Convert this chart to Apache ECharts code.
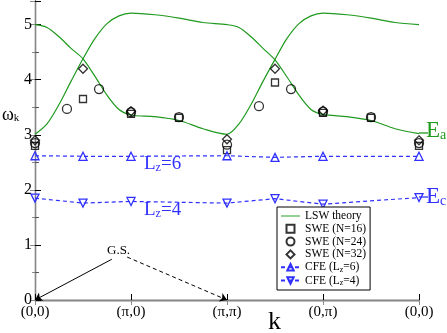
<!DOCTYPE html>
<html><head><meta charset="utf-8">
<script src="https://cdn.jsdelivr.net/npm/echarts@6/dist/echarts.min.js"></script>
<style>html,body{margin:0;padding:0;background:#fff}#c{width:447px;height:333px}</style>
</head><body><div id="c"></div>
<script>
const tickLabels = ['(0,0)', '(π,0)', '(π,π)', '(0,π)', '(0,0)'];
const lswX = [0,0.125,0.25,0.375,0.5,0.625,0.75,0.875,1,1.25,1.5,1.75,2,2.125,2.25,2.375,2.5,2.625,2.75,2.875,3,3.25,3.5,3.75,4];
const lswBand1 = [5.0,4.95,4.78,4.57,4.38,4.06,3.72,3.46,3.36,3.33,3.26,3.11,3.01,3.2,3.55,3.97,4.37,4.75,5.02,5.16,5.21,5.18,5.12,5.04,5.0];
const lswBand2 = [3.01,3.2,3.55,3.97,4.38,4.75,5.02,5.16,5.21,5.18,5.12,5.04,5.0,4.95,4.78,4.57,4.36,4.05,3.72,3.46,3.37,3.33,3.26,3.11,3.02];
const swe16X = [0,0.5,1,1.5,2,2.5,3,3.5,4];
const swe16 = [2.8,3.65,3.38,3.31,2.72,3.95,3.4,3.31,2.8];
const swe24X = [0,0.333,0.667,1,1.5,2,2.333,2.667,3,3.5,4];
const swe24 = [2.85,3.47,3.83,3.41,3.32,2.82,3.52,3.83,3.42,3.32,2.85];
const swe32X = [0,0.5,1,2,2.5,3,4];
const swe32 = [2.9,4.2,3.43,2.92,4.2,3.44,2.9];
const cfeX = [0,0.5,1,2,2.5,3,4];
const cfeLz6 = [2.62,2.61,2.61,2.62,2.59,2.61,2.61];
const cfeLz4 = [1.85,1.76,1.79,1.76,1.84,1.74,1.86];
const gsFrom = [0.8, 0.74];
const gsTo = [0, 0];
const gsFrom2 = [0.96, 0.78];
const gsTo2 = [2, 0];

const zip = (xs, ys) => xs.map((x, i) => [x, ys[i]]);
const serif = 'Liberation Serif';
const green = '#1f9a1f';
const blue = '#3030ff';
const hollow = c => ({color: 'rgba(0,0,0,0)', borderColor: c, borderWidth: 1.3});
const sub = {fontFamily: serif, fontSize: 9, padding: [7, 0, 0, 0]};
const squarePath = 'path://M0,0L10,0L10,10L0,10Z';
const diamondPath = 'path://M5,0L10,5L5,10L0,5Z';
const chart = echarts.init(document.getElementById('c'), null, {renderer: 'canvas'});
chart.setOption({
  animation: false,
  grid: {left: 35, right: 28, top: 1, bottom: 33},
  xAxis: [{
    type: 'value', min: 0, max: 4, interval: 1,
    axisLine: {lineStyle: {color: '#000', width: 1.3}},
    axisTick: {inside: true, length: 6, lineStyle: {color: '#000'}},
    axisLabel: {formatter: v => tickLabels[Math.round(v)], fontFamily: serif, fontSize: 15, color: '#000', margin: 5},
    splitLine: {show: false}
  }, {
    type: 'value', min: 0, max: 4, interval: 1, position: 'top',
    axisLine: {lineStyle: {color: '#888', width: 1}},
    axisTick: {inside: true, length: 5, lineStyle: {color: '#888'}},
    axisLabel: {show: false}, splitLine: {show: false}
  }],
  yAxis: [{
    type: 'value', min: 0, max: 5.43, interval: 1,
    axisLine: {show: true, lineStyle: {color: '#000', width: 1.3}},
    axisTick: {inside: true, length: 6, lineStyle: {color: '#000'}},
    minorTick: {show: true, splitNumber: 2, length: 4, lineStyle: {color: '#555'}},
    axisLabel: {showMaxLabel: false, fontFamily: serif, fontSize: 16, color: '#000', margin: 3,
      formatter: v => (Math.abs(v - Math.round(v)) < 1e-6 ? String(Math.round(v)) : '')},
    splitLine: {show: false}
  }, {
    type: 'value', min: 0, max: 5.43, interval: 1, position: 'right',
    axisLine: {show: true, lineStyle: {color: '#888', width: 1}},
    axisTick: {inside: true, length: 5, lineStyle: {color: '#888'}},
    minorTick: {show: true, splitNumber: 2, length: 3, lineStyle: {color: '#888'}},
    axisLabel: {show: false}, splitLine: {show: false}
  }],
  legend: {
    orient: 'vertical', left: 277, top: 207,
    data: [
      {name: 'LSW theory', icon: 'path://M0,0L40,0L40,2L0,2Z'},
      'SWE (N=16)', 'SWE (N=24)', 'SWE (N=32)', 'CFE (Lz=6)', 'CFE (Lz=4)'],
    backgroundColor: '#fff', borderColor: '#000', borderWidth: 1, borderRadius: 0,
    padding: [3, 4, 3, 3], itemGap: 0.8, itemWidth: 19, itemHeight: 8,
    formatter: n => n.replace('Lz', 'L{s|z}'),
    textStyle: {fontFamily: serif, fontSize: 11.5, color: '#000', lineHeight: 10,
      rich: {s: {fontFamily: serif, fontSize: 8, padding: [5, 0, 0, 0]}}}
  },
  graphic: [
    {type: 'text', left: 2, top: 106, style: {text: 'ω{s|k}', font: '18px ' + serif, fill: '#000', rich: {s: Object.assign({}, sub, {fontSize: 11})}}},
    {type: 'text', left: 144, top: 155, style: {text: 'L{s|z}=6', font: '19px ' + serif, fill: blue, rich: {s: Object.assign({}, sub, {fontSize: 12, fill: blue})}}},
    {type: 'text', left: 144, top: 201, style: {text: 'L{s|z}=4', font: '19px ' + serif, fill: blue, rich: {s: Object.assign({}, sub, {fontSize: 12, fill: blue})}}},
    {type: 'text', left: 107, top: 244, style: {text: 'G.S.', font: '13px ' + serif, fill: '#000'}},
    {type: 'text', left: 268, top: 309, style: {text: 'k', font: '26px ' + serif, fill: '#000'}},
    {type: 'line', shape: {x1: 419, y1: 133, x2: 428, y2: 133}, style: {stroke: green, lineWidth: 1.3}},
    {type: 'text', left: 426, top: 119, style: {text: 'E{s|a}', font: '23px ' + serif, fill: green, rich: {s: Object.assign({}, sub, {fontSize: 14, fill: green, padding: [9, 0, 0, 0]})}}},
    {type: 'line', shape: {x1: 419, y1: 197, x2: 428, y2: 197}, style: {stroke: blue, lineWidth: 1.3}},
    {type: 'text', left: 426, top: 185, style: {text: 'E{s|c}', font: '23px ' + serif, fill: blue, rich: {s: Object.assign({}, sub, {fontSize: 14, fill: blue, padding: [9, 0, 0, 0]})}}}
  ],
  series: [
    {name: 'LSW theory', type: 'line', data: zip(lswX, lswBand1), smooth: 0.3, symbol: 'none',
      lineStyle: {color: green, width: 1.2}, itemStyle: {color: green}, z: 1},
    {name: 'LSW theory', type: 'line', data: zip(lswX, lswBand2), smooth: 0.3, symbol: 'none',
      lineStyle: {color: green, width: 1.2}, itemStyle: {color: green}, z: 1},
    {name: 'SWE (N=16)', type: 'scatter', data: zip(swe16X, swe16), symbol: squarePath, symbolKeepAspect: true, symbolSize: 7, itemStyle: hollow('#000')},
    {name: 'SWE (N=24)', type: 'scatter', data: zip(swe24X, swe24), symbol: 'circle', symbolSize: 9, itemStyle: hollow('#000')},
    {name: 'SWE (N=32)', type: 'scatter', data: zip(swe32X, swe32), symbol: diamondPath, symbolKeepAspect: true, symbolSize: 9, itemStyle: hollow('#000')},
    {name: 'CFE (Lz=6)', type: 'line', data: zip(cfeX, cfeLz6), symbol: 'triangle', symbolSize: 8, showAllSymbol: true,
      lineStyle: {color: blue, width: 1.2, type: [4, 3]}, itemStyle: hollow(blue)},
    {name: 'CFE (Lz=4)', type: 'line', data: zip(cfeX, cfeLz4), symbol: 'triangle', symbolRotate: 180, symbolSize: 8, showAllSymbol: true,
      lineStyle: {color: blue, width: 1.2, type: [4, 3]}, itemStyle: hollow(blue)},
    {name: 'gs', type: 'line', data: [], silent: true,
      markLine: {silent: true, symbol: ['none', 'arrow'], symbolSize: 7, label: {show: false},
        lineStyle: {color: '#000', width: 1, type: 'solid'},
        data: [[{coord: gsFrom}, {coord: gsTo}]]}},
    {name: 'gs2', type: 'line', data: [], silent: true,
      markLine: {silent: true, symbol: ['none', 'arrow'], symbolSize: 7, label: {show: false},
        lineStyle: {color: '#000', width: 1, type: [4, 3]},
        data: [[{coord: gsFrom2}, {coord: gsTo2}]]}}
  ]
});
</script></body></html>
